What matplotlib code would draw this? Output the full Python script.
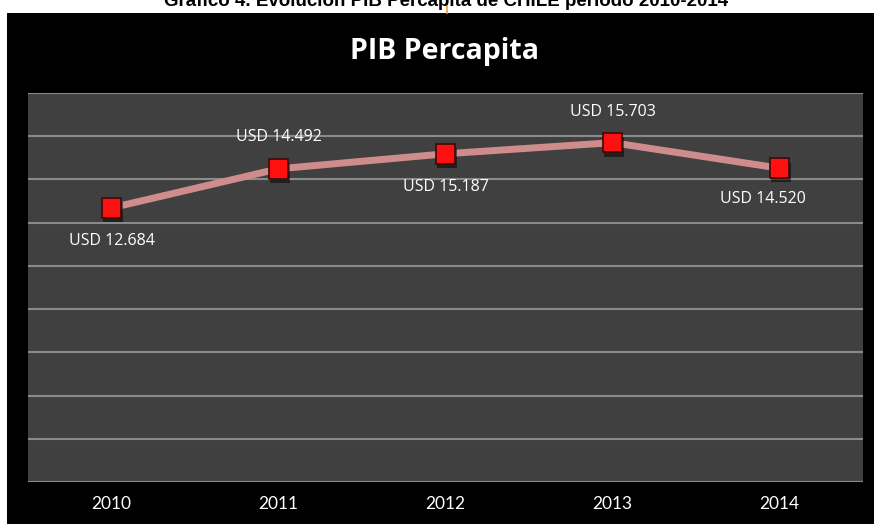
import matplotlib
matplotlib.use("Agg")
import matplotlib.pyplot as plt
from matplotlib.patches import Rectangle
from matplotlib.lines import Line2D
import matplotlib.patheffects as pe

years = ["2010", "2011", "2012", "2013", "2014"]
pib = [12684, 14492, 15187, 15703, 14520]
labels = ["USD 12.684", "USD 14.492", "USD 15.187", "USD 15.703", "USD 14.520"]
# label offsets in points (dx, dy)
offsets = [(0, -24), (0, 23), (0, -24), (0, 22), (-12, -22)]

fig = plt.figure(figsize=(8.74, 5.24), dpi=100)
fig.patch.set_facecolor("white")

# black chart panel
panel = Rectangle((7 / 874, 0), 1, 1 - 13 / 524, transform=fig.transFigure,
                  facecolor="black", edgecolor="none", zorder=-10)
fig.add_artist(panel)
# caption, cut off at the top like in the source
fig.text(446 / 874, 1 - 1 / 524, "Gráfico 4. Evolución PIB Percapita de CHILE período 2010-2014",
         ha="center", va="center", fontsize=13.5, fontweight="bold", color="black",
         family="Liberation Sans")
fig.add_artist(Line2D([447 / 874, 447 / 874], [1, 1 - 13 / 524], transform=fig.transFigure,
                      color="#f0a030", lw=1.2))

fig.text(445 / 874, 1 - 52 / 524, "PIB Percapita", ha="center", va="center",
         fontsize=20.5, fontweight="bold", color="white", family="Open Sans")

ax = fig.add_axes([28 / 874, 1 - 482 / 524, (863 - 28) / 874, (482 - 93) / 524])
ax.set_facecolor("#404040")
x = range(len(years))
ax.plot(x, pib, color="#cf8c8c", lw=5, zorder=3, solid_capstyle="butt")
ax.plot(x, pib, ls="none", marker="s", ms=14, mfc="#ff1010", mec="#3a0a0a", mew=1.2,
        zorder=4, path_effects=[pe.SimplePatchShadow(offset=(1, -3), shadow_rgbFace="black", alpha=0.5),
                                pe.Normal()])

for xi, yi, lab, (dx, dy) in zip(x, pib, labels, offsets):
    ax.annotate(lab, (xi, yi), xytext=(dx, dy), textcoords="offset points",
                ha="center", va="center", color="white", fontsize=11.5, family="Open Sans")

ax.set_xlim(-0.5, 4.5)
ax.set_ylim(0, 18000)
ax.set_yticks(range(0, 18001, 2000))
ax.set_yticklabels([])
ax.set_xticks(list(x))
ax.set_xticklabels(years, color="white", fontsize=12.5, family="Lato")
ax.tick_params(axis="both", length=0)
ax.tick_params(axis="x", pad=10)
ax.grid(axis="y", color="#8a8a8a", lw=1.5)
ax.set_axisbelow(True)
for s in ax.spines.values():
    s.set_visible(False)

fig.savefig("out.png", dpi=100, facecolor=fig.get_facecolor())
